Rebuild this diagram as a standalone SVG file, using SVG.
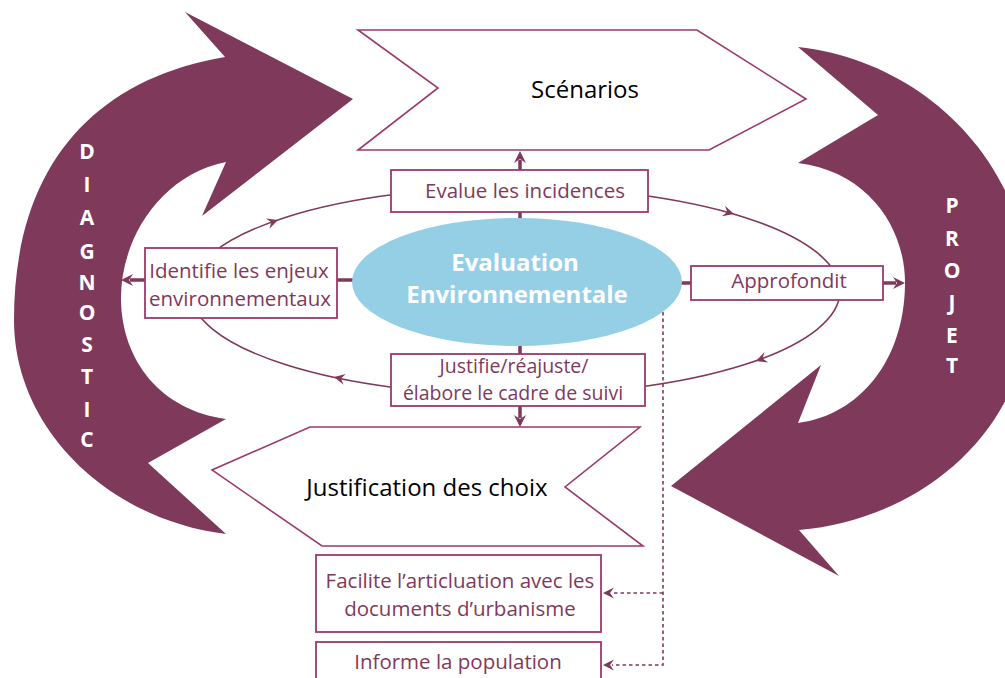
<svg xmlns="http://www.w3.org/2000/svg" width="1005" height="678" viewBox="0 0 1005 678">
<style>
.big{fill:#7f395b}
.shape{fill:#fff;stroke:#9c3a6c;stroke-width:1.6}
.box{fill:#fff;stroke:#9c3a6c;stroke-width:1.8}
.lbl{font-family:"Open Sans","Liberation Sans",sans-serif;font-size:20.5px;fill:#7f395b;text-anchor:middle}
.ttl{font-family:"Open Sans","Liberation Sans",sans-serif;font-size:24px;fill:#000;text-anchor:middle}
.vert{font-family:"Open Sans","Liberation Sans",sans-serif;font-size:21px;font-weight:bold;fill:#fff;text-anchor:middle}
.stub{stroke:#7f395b;stroke-width:3.5;fill:none}
.orbit{stroke:#7f395b;stroke-width:1.6;fill:none}
.dot{stroke:#7f395b;stroke-width:1.6;fill:none;stroke-dasharray:3.5 3}
.ah{fill:#7f395b}
</style>
<defs>
<path id="head" d="M0,0 L-12,-6 L-8,0 L-12,6 Z"/>
<path id="small" d="M0,0 L-11,-5.5 L-7,0 L-11,5.5 Z"/>
</defs>

<g id="diagnostic">
<path class="big" d="M225,57 L185,12 L353,99 L202,216 L226,162 C160,175 120,240 121,300 C122,360 160,410 226,419 L148,463 L226,534 C110,520 14,430 14,320 C14,170 90,80 225,57 Z"/>
<g class="vert">
<text x="87" y="158.5">D</text><text x="87" y="192">I</text><text x="87" y="225">A</text><text x="87" y="259">G</text><text x="87" y="290">N</text><text x="87" y="320">O</text><text x="87" y="352">S</text><text x="87" y="384">T</text><text x="87" y="417">I</text><text x="87" y="447">C</text>
</g>
</g>

<g id="projet">
<path class="big" d="M798,47 L878,115 L798,163 C870,172 906,230 905,285 C904,360 860,415 798,423 L821,365 L671,486 L839,576 L799,530 C920,520 1030,430 1030,300 C1030,160 920,60 798,47 Z"/>
<g class="vert">
<text x="952" y="212.5">P</text><text x="952" y="245.5">R</text><text x="952" y="277.5">O</text><text x="952" y="310">J</text><text x="952" y="342.5">E</text><text x="952" y="372.5">T</text>
</g>
</g>

<g id="scenarios">
<path class="shape" d="M358,30 L697,30 L806,99 L709,150 L358,150 L438,88 Z"/>
<text class="ttl" x="585" y="98">Scénarios</text>
</g>

<g id="justification">
<path class="shape" d="M310,427 L640,427 L565,487 L643,546 L322,546 L212,470 Z"/>
<text class="ttl" x="427" y="496">Justification des choix</text>
</g>

<g id="connectors">
<ellipse class="orbit" cx="515" cy="291" rx="325" ry="104"/>
<use href="#small" class="ah" transform="translate(278,220) rotate(-19)"/>
<use href="#small" class="ah" transform="translate(734,214) rotate(16)"/>
<use href="#small" class="ah" transform="translate(756,361) rotate(160)"/>
<use href="#small" class="ah" transform="translate(334,377) rotate(192)"/>
<line class="stub" x1="520" y1="220" x2="520" y2="210"/>
<line class="stub" x1="520" y1="172" x2="520" y2="160"/>
<use href="#head" class="ah" transform="translate(520,151) rotate(-90)"/>
<line class="stub" x1="520" y1="345" x2="520" y2="356"/>
<line class="stub" x1="520" y1="404" x2="520" y2="418"/>
<use href="#head" class="ah" transform="translate(520,427) rotate(90)"/>
<line class="stub" x1="354" y1="280" x2="335" y2="280"/>
<line class="stub" x1="147" y1="280" x2="130" y2="280"/>
<use href="#head" class="ah" transform="translate(121,280) rotate(180)"/>
<line class="stub" x1="680" y1="283" x2="693" y2="283"/>
<line class="stub" x1="881" y1="283" x2="896" y2="283"/>
<use href="#head" class="ah" transform="translate(905,283)"/>
<path class="dot" d="M663,312 L663,665 L612,665 M663,593 L612,593"/>
<use href="#small" class="ah" transform="translate(603,593) rotate(180)"/>
<use href="#small" class="ah" transform="translate(603,665) rotate(180)"/>
</g>

<g id="evaluation">
<ellipse cx="517" cy="282" rx="165" ry="64" fill="#95cfe6"/>
<text x="515" y="271" font-family="'Open Sans','Liberation Sans',sans-serif" font-size="24" font-weight="bold" fill="#fff" text-anchor="middle">Evaluation</text>
<text x="517" y="303" font-family="'Open Sans','Liberation Sans',sans-serif" font-size="24" font-weight="bold" fill="#fff" text-anchor="middle">Environnementale</text>
</g>

<g id="evalue">
<rect class="box" x="391" y="170" width="257" height="42"/>
<text class="lbl" x="525" y="198">Evalue les incidences</text>
</g>

<g id="justifie">
<rect class="box" x="391" y="354" width="254" height="52"/>
<text class="lbl" x="514" y="373" style="font-size:19.5px">Justifie/réajuste/</text>
<text class="lbl" x="513" y="400" style="font-size:19.5px">élabore le cadre de suivi</text>
</g>

<g id="identifie">
<rect class="box" x="145" y="248" width="192" height="70"/>
<text class="lbl" x="239" y="278">Identifie les enjeux</text>
<text class="lbl" x="240" y="306">environnementaux</text>
</g>

<g id="approfondit">
<rect class="box" x="691" y="266" width="192" height="34"/>
<text class="lbl" x="789" y="288">Approfondit</text>
</g>

<g id="facilite">
<rect class="box" x="316" y="555" width="285" height="77"/>
<text class="lbl" x="460" y="588">Facilite l’articluation avec les</text>
<text class="lbl" x="460" y="616">documents d’urbanisme</text>
</g>

<g id="informe">
<rect class="box" x="316" y="642" width="285" height="50"/>
<text class="lbl" x="458" y="669">Informe la population</text>
</g>
</svg>
